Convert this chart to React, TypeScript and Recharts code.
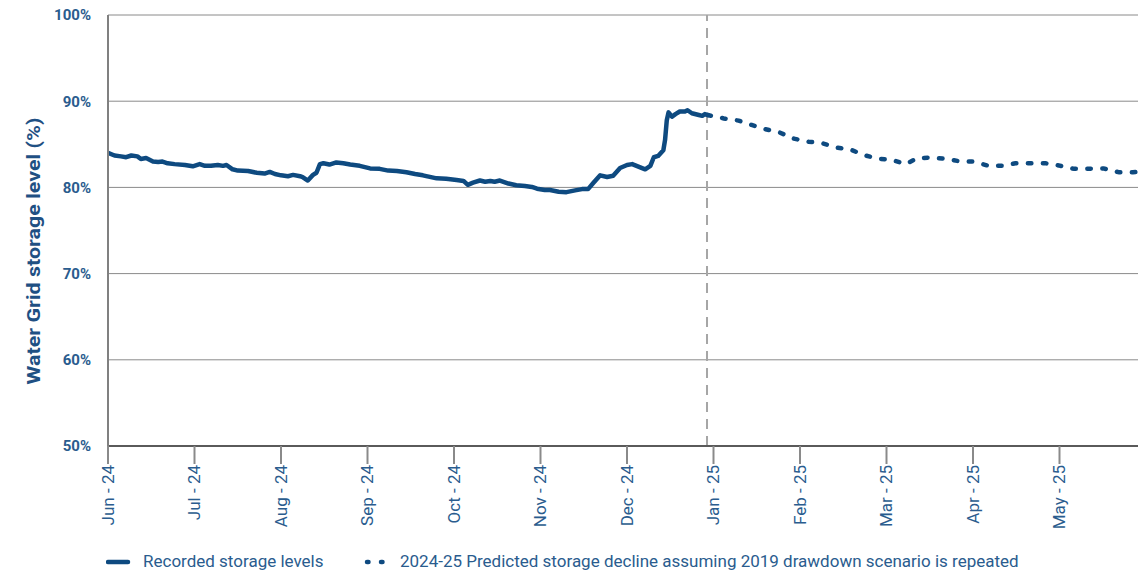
import React from 'react';
import { LineChart, Line, XAxis, YAxis, CartesianGrid, ReferenceLine, Legend } from 'recharts';

// x positions are in months since 1 June 2024 (0 = Jun-24, 12 = Jun-25)
const recordedPos = [
  0.0, 0.075, 0.15, 0.21, 0.27, 0.34, 0.38, 0.44, 0.52, 0.58, 0.63, 0.69, 0.77, 0.89, 0.98,
  1.06, 1.12, 1.19, 1.27, 1.33, 1.37, 1.44, 1.5, 1.62, 1.72, 1.81, 1.87, 1.93,
  2.0, 2.08, 2.14, 2.22, 2.25, 2.31, 2.37, 2.41, 2.45, 2.49, 2.56, 2.64, 2.72, 2.8, 2.91,
  3.03, 3.14, 3.24, 3.34, 3.45, 3.55, 3.64, 3.8, 3.91,
  4.03, 4.11, 4.16, 4.22, 4.3, 4.36, 4.42, 4.47, 4.53, 4.63, 4.72, 4.82, 4.9, 4.96,
  5.05, 5.11, 5.21, 5.3, 5.4, 5.48, 5.55, 5.61, 5.69, 5.77, 5.84, 5.92,
  6.0, 6.06, 6.11, 6.21, 6.27, 6.31, 6.36, 6.42, 6.44, 6.46, 6.48, 6.52, 6.56, 6.61, 6.67,
  6.7, 6.75, 6.83, 6.87, 6.9, 6.95,
];
const recordedLevel = [
  84.0, 83.7, 83.6, 83.5, 83.7, 83.6, 83.3, 83.4, 83.0, 82.95, 83.0, 82.8, 82.7, 82.6, 82.45,
  82.7, 82.5, 82.5, 82.6, 82.5, 82.6, 82.1, 81.95, 81.9, 81.7, 81.6, 81.8, 81.55,
  81.4, 81.3, 81.45, 81.3, 81.2, 80.8, 81.45, 81.7, 82.7, 82.8, 82.65, 82.9, 82.8, 82.65, 82.5,
  82.2, 82.15, 81.95, 81.9, 81.75, 81.55, 81.4, 81.05, 81.0,
  80.85, 80.75, 80.3, 80.55, 80.8, 80.65, 80.75, 80.65, 80.8, 80.45, 80.25, 80.15, 80.05, 79.85,
  79.7, 79.7, 79.5, 79.45, 79.65, 79.8, 79.8, 80.5, 81.4, 81.2, 81.35, 82.25,
  82.6, 82.7, 82.5, 82.1, 82.5, 83.5, 83.65, 84.3, 85.5, 87.8, 88.7, 88.2, 88.5, 88.8, 88.8,
  88.95, 88.6, 88.4, 88.3, 88.5, 88.35,
];

const predictedPos = [
  6.93, 7.12, 7.29, 7.44, 7.6, 7.77, 7.93, 8.1, 8.25, 8.43, 8.58, 8.74, 8.89, 9.06, 9.22, 9.36,
  9.53, 9.7, 9.86, 10.01, 10.18, 10.34, 10.49, 10.66, 10.84, 10.99, 11.17, 11.34, 11.51, 11.69,
  11.85, 12.0,
];
const predictedLevel = [
  88.4, 88.0, 87.75, 87.25, 86.75, 86.35, 85.65, 85.3, 85.15, 84.6, 84.4, 83.75, 83.35, 83.2, 82.7,
  83.4, 83.45, 83.3, 83.0, 83.0, 82.5, 82.5, 82.8, 82.8, 82.8, 82.55, 82.15, 82.15, 82.2, 81.75,
  81.75, 81.9,
];

const monthLabels = [
  'Jun - 24', 'Jul - 24', 'Aug - 24', 'Sep - 24', 'Oct - 24', 'Nov - 24', 'Dec - 24',
  'Jan - 25', 'Feb - 25', 'Mar - 25', 'Apr - 25', 'May - 25', 'Jun - 25',
];
const monthTicks = monthLabels.map((_, i) => i);
const yTicks = [50, 60, 70, 80, 90, 100];
const cutoverPos = 6.925;

const recordedName = 'Recorded storage levels';
const predictedName = '2024-25 Predicted storage decline assuming 2019 drawdown scenario is repeated';
const yTitle = 'Water Grid storage level (%)';

const recordedData = recordedPos.map((m, i) => ({ m, v: recordedLevel[i] }));
const predictedData = predictedPos.map((m, i) => ({ m, v: predictedLevel[i] }));

const LINE = '#0E4A80';
const TEXT = '#2A5C8E';
const FONT = 'Roboto, "Noto Sans", sans-serif';

const XTick = (props: any) => {
  const { x, y, payload } = props;
  return (
    <text
      x={x}
      y={y + 1}
      transform={`rotate(-90, ${x}, ${y + 1})`}
      textAnchor="end"
      dy="0.35em"
      fill={TEXT}
      fontSize={17}
      fontFamily={FONT}
    >
      {monthLabels[payload.value]}
    </text>
  );
};

const YTitle = (props: any) => {
  const cx = 33;
  const cy = 251;
  return (
    <text
      x={cx}
      y={cy}
      transform={`rotate(-90, ${cx}, ${cy})`}
      textAnchor="middle"
      dominantBaseline="central"
      fill="#1F5083"
      fontSize={18}
      fontWeight={700}
      fontFamily={FONT}
      textLength={267}
      lengthAdjust="spacingAndGlyphs"
    >
      {yTitle}
    </text>
  );
};

const LegendContent = () => (
  <div style={{ position: 'relative', height: 28, width: 1000, fontFamily: FONT, fontSize: 17, color: TEXT }}>
    <svg width={30} height={10} style={{ position: 'absolute', left: 0, top: 9 }}>
      <line x1={2} y1={5} x2={22} y2={5} stroke={LINE} strokeWidth={4.5} strokeLinecap="round" />
    </svg>
    <span style={{ position: 'absolute', left: 37, top: 3, whiteSpace: 'nowrap' }}>{recordedName}</span>
    <svg width={30} height={10} style={{ position: 'absolute', left: 257, top: 9 }}>
      <line x1={4} y1={5} x2={21} y2={5} stroke={LINE} strokeWidth={4.5} strokeLinecap="round" strokeDasharray="1.5 12.5" />
    </svg>
    <span style={{ position: 'absolute', left: 294, top: 3, whiteSpace: 'nowrap' }}>{predictedName}</span>
  </div>
);

export default function App() {
  return (
    <div style={{ position: 'absolute', left: 0, top: 0, width: 1138, height: 573, overflow: 'hidden', background: '#fff' }}>
      <LineChart
        width={1160}
        height={573}
        margin={{ top: 15, right: 14, left: 0, bottom: 9 }}
        style={{ fontFamily: FONT }}
      >
        <CartesianGrid horizontal vertical={false} stroke="#8a8a8a" strokeWidth={1} />
        <XAxis
          type="number"
          dataKey="m"
          domain={[0, 12]}
          ticks={monthTicks}
          interval={0}
          allowDataOverflow
          height={90}
          tickSize={18}
          tickMargin={0}
          tick={<XTick />}
          axisLine={{ stroke: '#5a5a5a', strokeWidth: 2 }}
          tickLine={{ stroke: '#8a8a8a', strokeWidth: 2 }}
        />
        <YAxis
          type="number"
          domain={[50, 100]}
          ticks={yTicks}
          width={108}
          tickSize={0}
          tickMargin={17}
          tickFormatter={(v: number) => `${v}%`}
          tick={{ fill: TEXT, fontSize: 15, fontWeight: 700, fontFamily: FONT }}
          axisLine={{ stroke: '#808080', strokeWidth: 2 }}
          tickLine={false}
          label={<YTitle />}
        />
        <ReferenceLine x={cutoverPos} stroke="#a6a6a6" strokeWidth={2} strokeDasharray="10 7" />
        <Line
          data={recordedData}
          dataKey="v"
          name={recordedName}
          type="linear"
          stroke={LINE}
          strokeWidth={4.5}
          strokeLinejoin="round"
          dot={false}
          activeDot={false}
          isAnimationActive={false}
        />
        <Line
          data={predictedData}
          dataKey="v"
          name={predictedName}
          type="linear"
          stroke={LINE}
          strokeWidth={4.5}
          strokeLinecap="round"
          strokeDasharray="3.5 11.5"
          dot={false}
          activeDot={false}
          isAnimationActive={false}
        />
        <Legend
          verticalAlign="bottom"
          content={<LegendContent />}
          wrapperStyle={{ position: 'absolute', left: 106, top: 548, width: 1000, height: 28 }}
        />
      </LineChart>
    </div>
  );
}
